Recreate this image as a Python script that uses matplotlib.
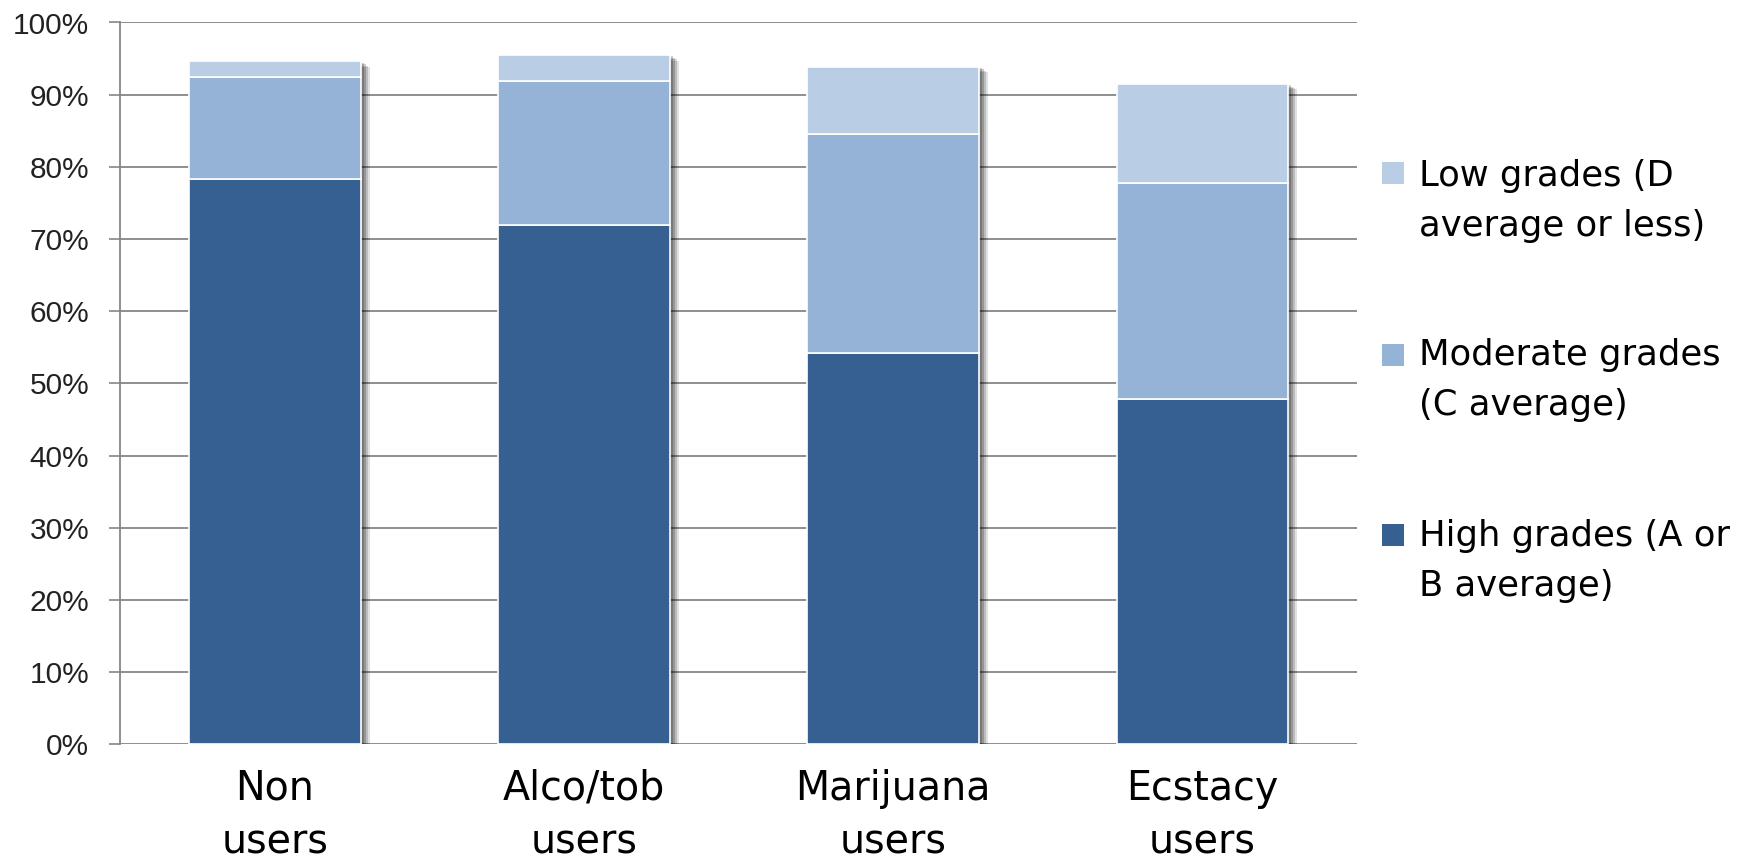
import matplotlib
matplotlib.use("Agg")
import matplotlib.pyplot as plt
import matplotlib.patheffects as pe
from matplotlib.patches import Rectangle
from matplotlib.ticker import FuncFormatter
import numpy as np

categories = ["Non\nusers", "Alco/tob\nusers", "Marijuana\nusers", "Ecstacy\nusers"]
high = [78.3, 72.0, 54.2, 47.8]
moderate = [14.1, 19.9, 30.4, 30.0]
low = [2.2, 3.6, 9.3, 13.7]
series_labels = ["Low grades (D\naverage or less)", "Moderate grades\n(C average)", "High grades (A or\nB average)"]
yticks = list(range(0, 101, 10))

c_high = "#366092"
c_mod = "#95B3D7"
c_low = "#B9CDE5"
grid_c = "#868686"

plt.rcParams['font.family'] = ['DejaVu Sans']

W, H = 1750, 863
fig = plt.figure(figsize=(W / 100, H / 100), dpi=100)
ax = fig.add_axes([120.5 / W, 1 - 744.4 / H, (1357 - 120.5) / W, (744.4 - 22.5) / H])

x = np.arange(len(categories))
bw = 0.556
total = np.array(high) + np.array(moderate) + np.array(low)

shadow = [pe.SimplePatchShadow(offset=(6.5, -4), shadow_rgbFace="#000000", alpha=0.12),
          pe.SimplePatchShadow(offset=(5, -3), shadow_rgbFace="#000000", alpha=0.16),
          pe.SimplePatchShadow(offset=(3.5, -2), shadow_rgbFace="#000000", alpha=0.2),
          pe.SimplePatchShadow(offset=(2, -1), shadow_rgbFace="#000000", alpha=0.2),
          pe.Normal()]
ax.bar(x, total, bw, color="white", edgecolor="none", zorder=2, path_effects=shadow)

ax.bar(x, high, bw, color=c_high, edgecolor="white", linewidth=1.2, zorder=3)
ax.bar(x, moderate, bw, bottom=high, color=c_mod, edgecolor="white", linewidth=1.2, zorder=3)
ax.bar(x, low, bw, bottom=np.array(high) + np.array(moderate), color=c_low,
       edgecolor="white", linewidth=1.2, zorder=3)

ax.set_xlim(-0.5, 3.5)
ax.set_ylim(0, 100)
ax.set_yticks(yticks)
ax.yaxis.set_major_formatter(FuncFormatter(lambda v, p: f"{int(round(v))}%"))
ax.yaxis.grid(True, color=grid_c, linewidth=1.3, zorder=0)
ax.set_axisbelow(True)
for s in ["top", "right", "bottom"]:
    ax.spines[s].set_visible(False)
ax.spines["left"].set_color(grid_c)
ax.spines["left"].set_linewidth(1.3)
ax.tick_params(axis="y", length=7.6, width=1.2, color=grid_c, pad=15, labelcolor="#222222")
for lbl in ax.get_yticklabels():
    lbl.set_fontfamily(["Liberation Sans", "DejaVu Sans"])
    lbl.set_fontsize(21.5)
ax.set_xticks(x)
ax.set_xticklabels(categories, fontsize=28.5, linespacing=1.42)
ax.tick_params(axis="x", length=0, pad=17.5, labelcolor="black")

# legend (manual)
colors = [c_low, c_mod, c_high]
block_centers = [201, 380, 561]
square_centers = [173.5, 355, 534.5]
sq = 22
for lab, col, bc, sc in zip(series_labels, colors, block_centers, square_centers):
    fig.patches.append(Rectangle((1382 / W, 1 - (sc + sq / 2) / H), sq / W, sq / H,
                                 transform=fig.transFigure, facecolor=col, edgecolor="none"))
    fig.text(1419 / W, 1 - bc / H, lab, fontsize=25.5, va="center", ha="left",
             linespacing=1.62, color="black")

fig.savefig("out.png", dpi=100, facecolor="white")
